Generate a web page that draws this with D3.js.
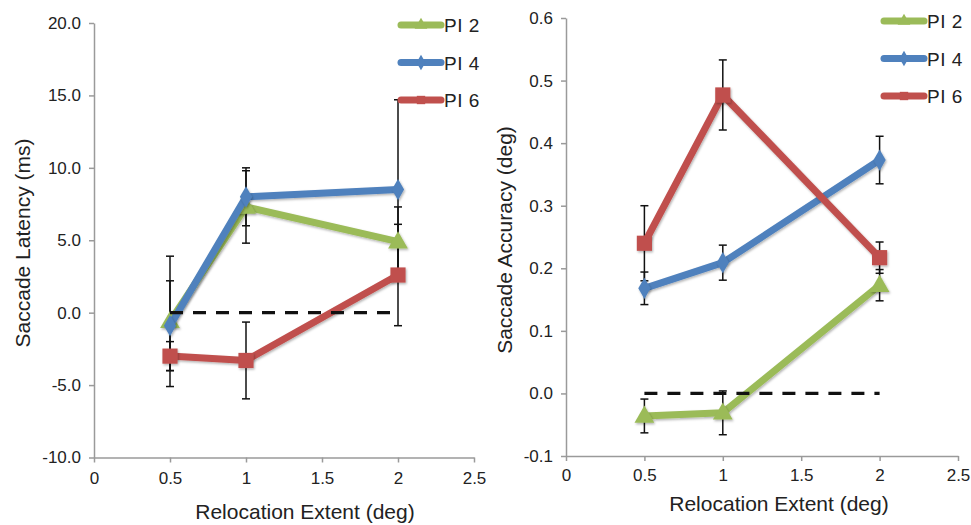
<!DOCTYPE html>
<html>
<head>
<meta charset="utf-8">
<script src="https://cdnjs.cloudflare.com/ajax/libs/d3/7.8.5/d3.min.js"></script>
<style>
  body { margin: 0; background: #fff; }
  text { font-family: "Liberation Sans", Arial, sans-serif; fill: #222; }
</style>
</head>
<body>
<svg id="chart" width="971" height="525"></svg>
<script>
// relocation extents (deg)
var extents = [0.5, 1, 2];
var seriesNames = ["PI 2", "PI 4", "PI 6"];
var seriesColors = ["#9BBB59", "#4F81BD", "#C0504D"];
var seriesShapes = ["triangle", "diamond", "square"];

// saccade latency (ms)
var latPI2 = [-0.6, 7.3, 4.9];
var latPI2Err = [4.5, 2.5, 2.4];
var latPI4 = [-0.9, 8.0, 8.5];
var latPI4Err = [3.1, 2.0, 6.2];
var latPI6 = [-3.0, -3.3, 2.6];
var latPI6Err = [1.0, 2.65, 3.5];

// saccade accuracy (deg)
var accPI2 = [-0.036, -0.031, 0.173];
var accPI2Err = [0.027, 0.035, 0.025];
var accPI4 = [0.168, 0.209, 0.373];
var accPI4Err = [0.026, 0.028, 0.038];
var accPI6 = [0.240, 0.477, 0.217];
var accPI6Err = [0.06, 0.056, 0.025];

var xTicks = [0, 0.5, 1, 1.5, 2, 2.5];
var latTicks = [-10, -5, 0, 5, 10, 15, 20];
var accTicks = [-0.1, 0, 0.1, 0.2, 0.3, 0.4, 0.5, 0.6];

var svg = d3.select("#chart");

// marker shadow
var defs = svg.append("defs");
defs.append("filter").attr("id", "shadow")
    .attr("x", "-50%").attr("y", "-50%").attr("width", "200%").attr("height", "200%")
    .append("feDropShadow")
    .attr("dx", 1).attr("dy", 1.5).attr("stdDeviation", 1.2)
    .attr("flood-color", "#000").attr("flood-opacity", 0.3);

var symbolTypes = {
    triangle: d3.symbolTriangle,
    diamond: d3.symbolDiamond,
    square: d3.symbolSquare
};
var symbolSizes = { triangle: 170, diamond: 130, square: 230 };

function drawPanel(cfg) {
    var x = d3.scaleLinear().domain([0, 2.5]).range([cfg.x0, cfg.x1]);
    var y = d3.scaleLinear().domain(cfg.yDomain).range([cfg.y1, cfg.y0]);
    var g = svg.append("g");

    // axes
    var xAxis = d3.axisBottom(x).tickValues(xTicks).tickSize(5).tickSizeOuter(0)
        .tickPadding(cfg.xPad).tickFormat(d3.format(""));
    var gx = g.append("g").attr("transform", "translate(0," + cfg.y1 + ")").call(xAxis);
    var yAxis = d3.axisLeft(y).tickValues(cfg.yTicks).tickSize(5).tickSizeOuter(0)
        .tickPadding(8).tickFormat(d3.format(".1f"));
    var gy = g.append("g").attr("transform", "translate(" + cfg.x0 + ",0)").call(yAxis);
    [gx, gy].forEach(function(a) {
        a.select(".domain").attr("stroke", "#9a9a9a").attr("stroke-width", 1.5);
        a.selectAll(".tick line").attr("stroke", "#9a9a9a").attr("stroke-width", 1.5);
        a.selectAll(".tick text").style("font-size", "17px").attr("fill", "#222");
    });
    gy.selectAll(".tick text").text(function(d) { return d3.format(".1f")(d).replace("−", "-"); });

    // axis titles
    g.append("text")
        .attr("x", cfg.xTitleX).attr("y", cfg.xTitleY)
        .attr("text-anchor", "middle").style("font-size", "21px")
        .text("Relocation Extent (deg)");
    g.append("text")
        .attr("transform", "translate(" + cfg.yTitleX + "," + cfg.yTitleY + ") rotate(-90)")
        .attr("text-anchor", "middle").style("font-size", "21px")
        .text(cfg.yTitle);

    // error bars
    cfg.series.forEach(function(s, i) {
        var eb = g.append("g").attr("stroke", "#111").attr("stroke-width", 1.5);
        extents.forEach(function(e, j) {
            var cx = x(e), top = y(s.vals[j] + s.errs[j]), bot = y(s.vals[j] - s.errs[j]);
            eb.append("line").attr("x1", cx).attr("x2", cx).attr("y1", top).attr("y2", bot);
            eb.append("line").attr("x1", cx - 4).attr("x2", cx + 4).attr("y1", top).attr("y2", top);
            eb.append("line").attr("x1", cx - 4).attr("x2", cx + 4).attr("y1", bot).attr("y2", bot);
        });
    });

    // lines and markers
    var line = d3.line().x(function(d) { return x(d[0]); }).y(function(d) { return y(d[1]); });
    cfg.series.forEach(function(s, i) {
        var pts = extents.map(function(e, j) { return [e, s.vals[j]]; });
        g.append("path").datum(pts).attr("d", line)
            .attr("fill", "none").attr("stroke", seriesColors[i])
            .attr("stroke-width", 7).attr("stroke-linejoin", "round")
            .attr("filter", "url(#shadow)");
        g.selectAll(null).data(pts).enter().append("path")
            .attr("transform", function(d) {
                var dy = seriesShapes[i] === "triangle" ? 1 : 0;
                return "translate(" + x(d[0]) + "," + (y(d[1]) + dy) + ")";
            })
            .attr("d", d3.symbol().type(symbolTypes[seriesShapes[i]]).size(symbolSizes[seriesShapes[i]]))
            .attr("fill", seriesColors[i])
            .attr("filter", "url(#shadow)");
    });

    // zero reference line
    g.append("line")
        .attr("x1", x(0.5)).attr("x2", x(2)).attr("y1", y(0)).attr("y2", y(0))
        .attr("stroke", "#111").attr("stroke-width", 3.2).attr("stroke-dasharray", "13,10");

    // legend
    seriesNames.forEach(function(name, i) {
        var ly = cfg.legY + i * cfg.legStep;
        var lg = g.append("g");
        lg.append("line").attr("x1", cfg.legX).attr("x2", cfg.legX + 40)
            .attr("y1", ly).attr("y2", ly)
            .attr("stroke", seriesColors[i]).attr("stroke-width", 7).attr("stroke-linecap", "round");
        lg.append("path")
            .attr("transform", "translate(" + (cfg.legX + 20) + "," + ly + ")")
            .attr("d", d3.symbol().type(symbolTypes[seriesShapes[i]]).size(70))
            .attr("fill", seriesColors[i]);
        lg.append("text").attr("x", cfg.legX + 43).attr("y", ly + 7)
            .style("font-size", "19px").style("letter-spacing", "0.5px").text(name);
    });
}

drawPanel({
    x0: 94, x1: 474, y0: 23, y1: 457.5,
    yDomain: [-10, 20], yTicks: latTicks,
    yTitle: "Saccade Latency (ms)", yTitleX: 30, yTitleY: 243,
    xTitleX: 305, xTitleY: 519, xPad: 9,
    legX: 401, legY: 25, legStep: 37.5,
    series: [
        { vals: latPI2, errs: latPI2Err },
        { vals: latPI4, errs: latPI4Err },
        { vals: latPI6, errs: latPI6Err }
    ]
});

drawPanel({
    x0: 566, x1: 958, y0: 18, y1: 456,
    yDomain: [-0.1, 0.6], yTicks: accTicks,
    yTitle: "Saccade Accuracy (deg)", yTitleX: 512, yTitleY: 240,
    xTitleX: 779, xTitleY: 511, xPad: 8,
    legX: 884, legY: 21, legStep: 37.5,
    series: [
        { vals: accPI2, errs: accPI2Err },
        { vals: accPI4, errs: accPI4Err },
        { vals: accPI6, errs: accPI6Err }
    ]
});
</script>
</body>
</html>
